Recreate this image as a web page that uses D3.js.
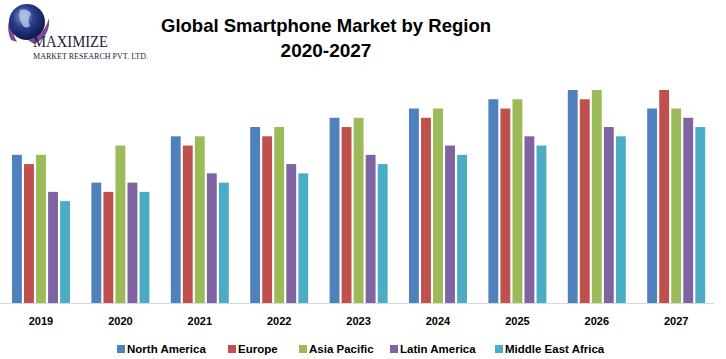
<!DOCTYPE html>
<html>
<head>
<meta charset="utf-8">
<script src="https://cdn.jsdelivr.net/npm/d3@7"></script>
<style>
  body { margin: 0; background: #fff; }
  svg { display: block; }
</style>
</head>
<body>
<div id="app"></div>
<script>
// data
const years = ["2019", "2020", "2021", "2022", "2023", "2024", "2025", "2026", "2027"];
const regions = ["North America", "Europe", "Asia Pacific", "Latin America", "Middle East Africa"];
const colors = ["#4f81bd", "#c0504d", "#9bbb59", "#8064a2", "#4bacc6"];
const northAmerica = [16, 13, 18, 19, 20, 21, 22, 23, 21];
const europe = [15, 12, 17, 18, 19, 20, 21, 22, 23];
const asiaPacific = [16, 17, 18, 19, 20, 21, 22, 23, 21];
const latinAmerica = [12, 13, 14, 15, 16, 17, 18, 19, 20];
const middleEastAfrica = [11, 12, 13, 14, 15, 16, 17, 18, 19];
const series = [northAmerica, europe, asiaPacific, latinAmerica, middleEastAfrica];

const width = 726, height = 359;
const baseY = 303;

const svg = d3.select("#app").append("svg")
    .attr("width", width)
    .attr("height", height);

// logo
const defs = svg.append("defs");
const grad = defs.append("radialGradient").attr("id", "globe")
    .attr("cx", "40%").attr("cy", "35%").attr("r", "65%");
grad.append("stop").attr("offset", "0%").attr("stop-color", "#8fa8d8");
grad.append("stop").attr("offset", "45%").attr("stop-color", "#2a3f8f");
grad.append("stop").attr("offset", "100%").attr("stop-color", "#0d1a4a");

const logo = svg.append("g");
logo.append("path")
    .attr("d", "M11,40 Q3,22 17,8 Q8,26 17,42 Z")
    .attr("fill", "#7a4a9a");
logo.append("circle").attr("cx", 27).attr("cy", 22).attr("r", 18).attr("fill", "url(#globe)");
logo.append("path")
    .attr("d", "M20,10 Q28,8 31,14 Q27,20 30,26 Q25,30 22,24 Q18,18 20,10 Z")
    .attr("fill", "#b9c9ea").attr("opacity", 0.8);
logo.append("path")
    .attr("d", "M28,40 Q44,36 49,18 Q51,36 34,44 Z")
    .attr("fill", "#7a4a9a");
logo.append("text")
    .attr("x", 33).attr("y", 47)
    .attr("textLength", 75)
    .attr("lengthAdjust", "spacingAndGlyphs")
    .style("font-family", "'Liberation Serif', serif")
    .style("font-size", "17px")
    .style("fill", "#1b1b3a")
    .text("MAXIMIZE");
logo.append("text")
    .attr("x", 33).attr("y", 59)
    .attr("textLength", 115)
    .attr("lengthAdjust", "spacingAndGlyphs")
    .style("font-family", "'Liberation Serif', serif")
    .style("font-size", "9px")
    .style("fill", "#1b1b3a")
    .text("MARKET RESEARCH PVT. LTD.");

// title
svg.append("text")
    .attr("x", 326).attr("y", 32)
    .attr("text-anchor", "middle")
    .style("font-family", "'Liberation Sans', Arial, sans-serif")
    .style("font-weight", "bold")
    .style("font-size", "18.5px")
    .style("fill", "#000")
    .text("Global Smartphone  Market by Region");
svg.append("text")
    .attr("x", 326).attr("y", 57)
    .attr("text-anchor", "middle")
    .style("font-family", "'Liberation Sans', Arial, sans-serif")
    .style("font-weight", "bold")
    .style("font-size", "19px")
    .style("fill", "#000")
    .text("2020-2027");

// scales
const x0 = d3.scaleBand().domain(years).range([0, 714.6]).padding(0);
const x1 = d3.scaleBand().domain(regions).range([12, 70]).paddingInner(0.18).paddingOuter(0);
const y = d3.scaleLinear().domain([0, 23]).range([baseY, 90]);

// bars
const groups = svg.selectAll(".year")
    .data(years)
    .enter().append("g")
    .attr("class", "year")
    .attr("transform", d => `translate(${x0(d)},0)`);

groups.selectAll("rect")
    .data((d, i) => regions.map((r, j) => ({ region: r, value: series[j][i], color: colors[j] })))
    .enter().append("rect")
    .attr("x", d => x1(d.region))
    .attr("width", x1.bandwidth())
    .attr("y", d => y(d.value))
    .attr("height", d => baseY - y(d.value))
    .attr("fill", d => d.color);

// axis line
svg.append("line")
    .attr("x1", 0).attr("x2", 714)
    .attr("y1", baseY + 0.5).attr("y2", baseY + 0.5)
    .attr("stroke", "#d9d9d9").attr("stroke-width", 1);

// year labels
groups.append("text")
    .attr("x", 41)
    .attr("y", 325)
    .attr("text-anchor", "middle")
    .style("font-family", "'Liberation Sans', Arial, sans-serif")
    .style("font-weight", "bold")
    .style("font-size", "11px")
    .style("fill", "#000")
    .text(d => d);

// legend
const legendX = [117, 228, 299, 390, 495];
const legend = svg.selectAll(".legend")
    .data(regions)
    .enter().append("g")
    .attr("class", "legend")
    .attr("transform", (d, i) => `translate(${legendX[i]},345)`);
legend.append("rect")
    .attr("width", 8).attr("height", 8)
    .attr("fill", (d, i) => colors[i]);
legend.append("text")
    .attr("x", 10).attr("y", 8)
    .style("font-family", "'Liberation Sans', Arial, sans-serif")
    .style("font-weight", "bold")
    .style("font-size", "11.5px")
    .style("fill", "#000")
    .text(d => d);
</script>
</body>
</html>
